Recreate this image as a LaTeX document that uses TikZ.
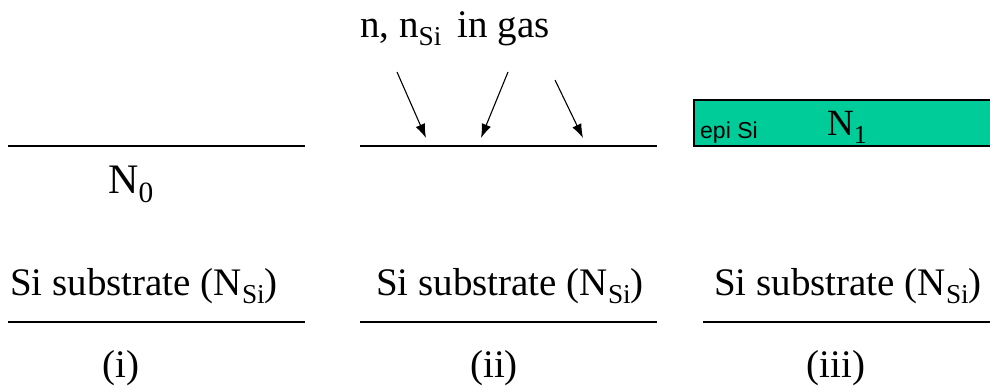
\documentclass[tikz,border=0pt]{standalone}
\usepackage{fontspec}
\usetikzlibrary{arrows.meta}
\setmainfont{Liberation Serif}
\newfontfamily\arialf{Liberation Sans}
\definecolor{epigreen}{HTML}{00CC99}
\newcommand\lsub[1]{\raisebox{-0.22em}{\scalebox{0.7}{#1}}}
\begin{document}
\begin{tikzpicture}[x=1pt,y=-1pt,
  lbl/.style={inner sep=0pt,anchor=base,font=\fontsize{39}{42}\selectfont},
  surf/.style={line width=1.8pt},
  arr/.style={line width=1.1pt,-{Latex[length=14pt,width=10pt]}}]
\useasboundingbox (0,0) rectangle (990,388);
% panel (i)
\coordinate (a1) at (8,146); \coordinate (a2) at (305,146);
\draw[surf] (a1) -- (a2);
\node[lbl,anchor=base west,font=\fontsize{42}{44}\selectfont] (n0) at (108,193) {N\lsub{0}};
\node[lbl] (s1) at (144,295) {Si substrate (N\lsub{Si})};
\coordinate (b1) at (8,322); \coordinate (b2) at (305,322);
\draw[surf] (b1) -- (b2);
\node[lbl] (l1) at (121,377) {(i)};
% panel (ii)
\node[lbl,anchor=base west] (gas) at (360,37) {n, n\lsub{Si}\, in gas};
\coordinate (c1) at (360,146); \coordinate (c2) at (657,146);
\draw[surf] (c1) -- (c2);
\coordinate (p1) at (397,72); \coordinate (q1) at (426,138);
\coordinate (p2) at (508,72); \coordinate (q2) at (481,138);
\coordinate (p3) at (555,80); \coordinate (q3) at (583,138);
\draw[arr] (p1) -- (q1);
\draw[arr] (p2) -- (q2);
\draw[arr] (p3) -- (q3);
\node[lbl] (s2) at (510,295) {Si substrate (N\lsub{Si})};
\coordinate (d1) at (360,322); \coordinate (d2) at (657,322);
\draw[surf] (d1) -- (d2);
\node[lbl] (l2) at (494,377) {(ii)};
% panel (iii)
\draw[fill=epigreen,line width=1.2pt] (694,100) rectangle (991,146);
\node[inner sep=0pt,anchor=base west,font=\arialf\fontsize{23}{25}\selectfont] (epi) at (700,138) {epi Si};
\node[lbl,anchor=base west,font=\fontsize{37}{40}\selectfont] (n1) at (827,135) {N\lsub{1}};
\node[lbl] (s3) at (848,295) {Si substrate (N\lsub{Si})};
\coordinate (e1) at (703,322); \coordinate (e2) at (990,322);
\draw[surf] (e1) -- (e2);
\node[lbl] (l3) at (836,377) {(iii)};
\end{tikzpicture}
\end{document}
